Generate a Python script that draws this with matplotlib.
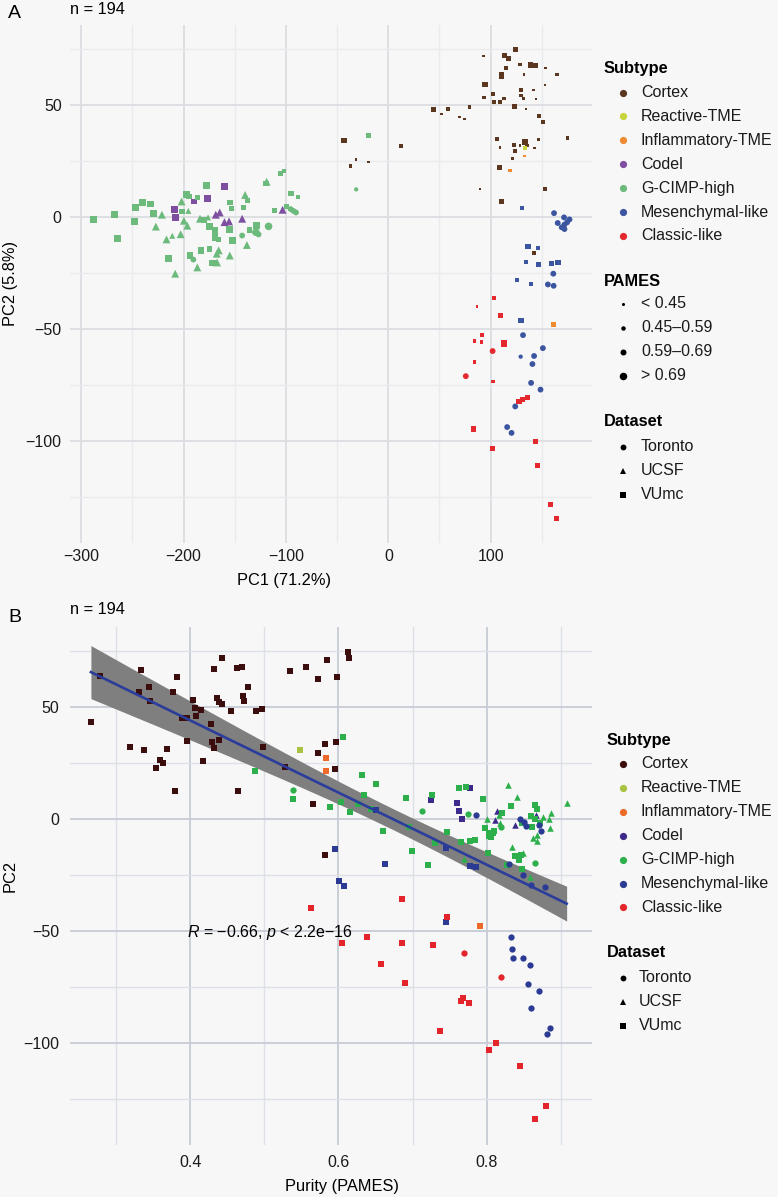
import numpy as np
import matplotlib
matplotlib.use("Agg")
import matplotlib.pyplot as plt
from matplotlib.lines import Line2D

plt.rcParams['font.family'] = ['Liberation Sans', 'DejaVu Sans']
plt.rcParams['mathtext.fontset'] = 'custom'
plt.rcParams['mathtext.it'] = 'Liberation Sans:italic'
plt.rcParams['mathtext.rm'] = 'Liberation Sans'

# legend / category info
subtypes = ["Cortex", "Reactive-TME", "Inflammatory-TME", "Codel",
            "G-CIMP-high", "Mesenchymal-like", "Classic-like"]
colors_a = ["#5a371e", "#c8d43b", "#ee8a30", "#7e4fa0", "#6dbb7c", "#3b55a0", "#e3282e"]
colors_b = ["#3b0d0d", "#a9c23f", "#ee6a2a", "#3d2a8a", "#2db04b", "#2b3a92", "#e3242b"]
pames_labels = ["< 0.45", "0.45\u20130.59", "0.59\u20130.69", "> 0.69"]
dataset_labels = ["Toronto", "UCSF", "VUmc"]
dataset_codes = ["T", "U", "V"]

# ---- panel A: (PC1, PC2, PAMES class 1-4, dataset) ----
a_cortex = [
    (93.1, 71.6, 1, "V"), (113.5, 71.9, 3, "V"), (117.8, 70.7, 3, "V"), (124.4, 74.5, 3, "V"),
    (115.1, 66.3, 2, "V"), (128.6, 67.9, 2, "V"), (139.2, 67.7, 3, "V"), (143.4, 67.3, 3, "V"),
    (153.6, 66.4, 1, "V"), (164.8, 63.4, 2, "V"), (132.6, 63.3, 1, "V"), (110.2, 63.6, 3, "V"),
    (110.2, 62.4, 3, "V"), (94.4, 59.0, 3, "V"), (153.0, 58.7, 1, "V"), (129.7, 56.5, 2, "V"),
    (141.8, 56.5, 1, "V"), (102.3, 54.7, 2, "V"), (93.8, 53.2, 2, "V"), (103.3, 51.0, 2, "V"),
    (109.2, 51.0, 2, "V"), (113.1, 52.7, 2, "V"), (129.7, 54.1, 2, "V"), (132.0, 52.7, 2, "V"),
    (144.4, 52.5, 1, "V"), (123.1, 49.0, 3, "V"), (134.6, 48.1, 1, "V"), (43.8, 47.9, 3, "V"),
    (58.2, 48.2, 2, "V"), (52.0, 45.8, 1, "V"), (79.3, 49.1, 2, "V"), (69.4, 44.5, 1, "V"),
    (74.3, 43.5, 1, "V"), (147.4, 45.0, 2, "V"), (151.3, 42.3, 2, "V"), (12.5, 31.5, 2, "V"),
    (106.3, 34.5, 2, "V"), (146.7, 34.5, 1, "V"), (175.0, 35.2, 2, "V"), (109.2, 30.8, 1, "V"),
    (122.7, 31.9, 2, "V"), (128.6, 31.8, 1, "V"), (133.5, 33.3, 3, "V"), (135.2, 31.8, 2, "V"),
    (142.8, 30.6, 1, "V"), (123.7, 29.3, 2, "V"), (121.4, 26.0, 2, "V"), (108.9, 21.9, 3, "V"),
    (89.5, 12.3, 1, "V"), (153.0, 12.3, 2, "V"), (110.5, 6.8, 3, "V"), (142.1, -16.3, 2, "V"),
    (-43.3, 34.1, 3, "V"), (-31.4, 25.4, 1, "V"), (-36.9, 22.6, 2, "V"), (-19.3, 24.4, 1, "V"),
]
a_reactive = [(133.5, 30.6, 2, "V")]
a_inflam = [(132.9, 27.1, 1, "V"), (118.8, 20.6, 2, "V"), (161.2, -48.2, 3, "V")]
a_codel = [
    (-160.1, 13.4, 4, "V"), (-176.5, 8.1, 4, "V"), (-189.9, 6.8, 3, "V"), (-209.1, 3.1, 4, "V"),
    (-207.8, -0.3, 4, "V"), (-168.6, 0.9, 4, "U"), (-164.7, 1.9, 4, "U"), (-160.1, -2.4, 4, "U"),
    (-155.6, -2.1, 4, "U"), (-142.8, -0.9, 4, "U"), (-103.3, 3.1, 4, "U"),
]
a_gcimp = [
    (-287.9, -1.2, 4, "V"), (-267.3, 0.9, 4, "V"), (-264.4, -9.8, 4, "V"), (-247.7, -2.1, 4, "V"),
    (-246.7, 4.0, 4, "V"), (-239.9, 6.3, 4, "V"), (-232.7, 5.7, 4, "V"), (-229.7, 1.3, 4, "V"),
    (-227.1, -4.4, 4, "U"), (-221.2, 0.9, 4, "U"), (-216.7, -10.1, 4, "U"), (-214.7, -18.5, 4, "V"),
    (-211.1, -8.5, 3, "U"), (-208.2, -25.4, 4, "U"), (-202.9, -7.8, 4, "U"), (-202.0, 6.8, 4, "U"),
    (-201.6, 2.4, 3, "V"), (-199.7, -1.8, 4, "U"), (-197.1, 10.0, 4, "V"), (-196.4, -4.0, 4, "U"),
    (-194.8, 9.1, 3, "V"), (-195.4, 2.6, 3, "U"), (-193.8, -17.2, 4, "V"), (-190.5, -19.1, 3, "T"),
    (-186.6, -22.6, 4, "U"), (-186.6, 8.5, 3, "V"), (-184.0, -0.9, 4, "U"), (-183.0, -15.0, 4, "V"),
    (-180.1, -1.5, 4, "V"), (-177.5, 14.1, 4, "V"), (-176.1, -0.3, 3, "U"), (-174.5, -4.3, 4, "V"),
    (-174.5, -14.4, 3, "V"), (-169.3, -6.0, 4, "V"), (-169.3, -9.1, 4, "V"), (-165.7, -10.3, 3, "V"),
    (-165.7, -15.0, 4, "U"), (-167.6, -16.5, 4, "U"), (-171.6, -20.6, 4, "V"), (-167.3, -20.4, 4, "U"),
    (-154.6, 6.2, 3, "V"), (-153.3, 3.8, 3, "V"), (-154.9, -5.6, 4, "V"), (-154.9, -17.3, 4, "U"),
    (-152.3, -10.7, 4, "V"), (-142.8, -8.4, 3, "T"), (-141.2, 4.1, 3, "V"), (-139.9, 9.7, 4, "U"),
    (-137.3, 7.4, 3, "V"), (-138.2, -12.6, 4, "U"), (-135.9, -5.9, 3, "V"), (-128.8, -3.8, 4, "V"),
    (-129.4, -6.9, 4, "T"), (-126.8, -7.9, 3, "T"), (-117.0, -4.3, 4, "T"), (-118.9, 15.6, 4, "U"),
    (-119.6, 14.7, 3, "V"), (-111.4, 2.8, 3, "V"), (-105.6, 19.4, 3, "V"), (-101.6, 20.4, 2, "V"),
    (-99.7, 4.7, 3, "V"), (-95.1, 10.3, 3, "V"), (-95.4, 3.4, 3, "T"), (-92.8, 2.6, 3, "T"),
    (-90.2, 1.9, 3, "T"), (-88.2, 8.8, 2, "V"), (-31.4, 12.2, 2, "T"), (-19.0, 36.4, 3, "V"),
]
a_mesen = [
    (130.9, 3.8, 2, "V"), (161.9, 1.6, 3, "T"), (171.7, -0.3, 3, "T"), (177.0, -1.2, 3, "T"),
    (165.5, -2.8, 3, "T"), (172.1, -3.5, 3, "T"), (169.4, -4.7, 3, "T"), (174.7, -2.5, 3, "T"),
    (172.1, -5.5, 3, "T"), (136.5, -13.2, 3, "V"), (146.4, -13.9, 2, "V"), (134.6, -20.3, 2, "V"),
    (146.7, -21.4, 3, "V"), (159.2, -21.0, 3, "V"), (165.8, -20.4, 3, "V"), (161.2, -25.4, 3, "T"),
    (125.7, -28.1, 2, "V"), (139.2, -29.9, 2, "V"), (155.9, -30.2, 3, "T"), (161.5, -30.8, 3, "T"),
    (129.7, -46.4, 3, "V"), (131.6, -52.8, 3, "T"), (151.0, -58.6, 3, "T"), (129.3, -62.4, 2, "T"),
    (142.4, -62.1, 3, "T"), (140.8, -65.7, 3, "T"), (139.5, -74.1, 3, "T"), (148.7, -77.1, 3, "T"),
    (124.0, -84.6, 3, "T"), (116.1, -93.8, 3, "T"), (120.4, -96.4, 3, "T"),
]
a_classic = [
    (103.0, -36.1, 2, "V"), (86.8, -39.9, 1, "V"), (109.5, -44.1, 3, "V"), (91.8, -52.7, 2, "V"),
    (84.2, -55.5, 2, "V"), (91.1, -55.9, 2, "V"), (113.1, -56.6, 4, "V"), (101.9, -59.9, 3, "T"),
    (84.2, -64.8, 2, "V"), (75.7, -71.1, 3, "T"), (102.6, -73.5, 2, "V"), (127.6, -82.4, 3, "V"),
    (130.9, -81.6, 3, "V"), (135.8, -80.6, 3, "V"), (83.2, -94.7, 3, "V"), (143.8, -100.1, 3, "V"),
    (101.7, -103.4, 3, "V"), (145.8, -110.8, 3, "V"), (158.2, -128.5, 3, "V"), (164.2, -134.4, 3, "V"),
]

# ---- panel B: (purity, PC2, dataset) ----
b_cortex = [
    (0.2662, 43.2, "V"), (0.2784, 63.5, "V"), (0.3342, 66.3, "V"), (0.3306, 56.4, "V"),
    (0.3450, 58.8, "V"), (0.3459, 52.7, "V"), (0.3189, 32.1, "V"), (0.3378, 30.7, "V"),
    (0.3595, 26.0, "V"), (0.3631, 24.8, "V"), (0.3545, 22.4, "V"), (0.3685, 30.9, "V"),
    (0.3797, 12.5, "V"), (0.3775, 56.4, "V"), (0.3829, 63.4, "V"), (0.3887, 44.7, "V"),
    (0.3964, 44.8, "V"), (0.3959, 34.6, "V"), (0.4036, 53.1, "V"), (0.4068, 49.4, "V"),
    (0.4077, 45.6, "V"), (0.4153, 48.4, "V"), (0.4171, 25.7, "V"), (0.4288, 42.1, "V"),
    (0.4297, 34.4, "V"), (0.4324, 31.6, "V"), (0.4383, 35.3, "V"), (0.4324, 66.8, "V"),
    (0.4428, 71.5, "V"), (0.4356, 54.0, "V"), (0.4392, 52.1, "V"), (0.4428, 51.3, "V"),
    (0.4545, 48.1, "V"), (0.4631, 67.4, "V"), (0.4698, 67.8, "V"), (0.4716, 54.9, "V"),
    (0.4730, 52.7, "V"), (0.4779, 58.9, "V"), (0.4887, 47.9, "V"), (0.4968, 48.8, "V"),
    (0.4644, 12.3, "V"), (0.4977, 31.8, "V"), (0.5279, 23.2, "V"), (0.5351, 66.0, "V"),
    (0.5563, 67.5, "V"), (0.5730, 62.3, "V"), (0.5662, 6.7, "V"), (0.5721, 29.4, "V"),
    (0.5824, 33.2, "V"), (0.5824, -16.3, "V"), (0.5847, 70.9, "V"), (0.5982, 63.4, "V"),
    (0.6135, 74.5, "V"), (0.6144, 71.8, "V"), (0.5968, 34.1, "V"), (0.5955, 22.0, "V"),
]
b_reactive = [(0.5482, 30.7, "V")]
b_inflam = [(0.5829, 27.2, "V"), (0.5838, 21.1, "V"), (0.7908, -47.9, "V")]
b_codel = [
    (0.7251, 8.5, "V"), (0.7593, 7.0, "V"), (0.7629, 3.3, "V"), (0.7665, -0.3, "V"),
    (0.7773, 13.7, "V"), (0.8138, 3.4, "U"), (0.8115, -0.7, "U"), (0.8385, -2.8, "U"),
    (0.8664, 1.5, "U"),
]
b_gcimp = [
    (0.4878, 21.1, "V"), (0.5383, 12.6, "T"), (0.5392, 8.9, "V"), (0.5883, 5.2, "V"),
    (0.6068, 36.4, "V"), (0.6032, 7.6, "V"), (0.6158, 3.0, "V"), (0.6320, 19.6, "V"),
    (0.6347, 10.7, "V"), (0.6270, 6.4, "V"), (0.6437, 4.2, "V"), (0.6504, 15.7, "V"),
    (0.6608, -5.6, "V"), (0.6914, 9.3, "V"), (0.6954, -3.6, "V"), (0.6986, -14.5, "V"),
    (0.7125, 3.3, "T"), (0.7211, -20.5, "V"), (0.7265, 10.4, "V"), (0.7305, -10.7, "V"),
    (0.7463, -5.8, "V"), (0.7620, 13.8, "V"), (0.7715, 14.2, "V"), (0.7647, -10.2, "V"),
    (0.7746, 1.9, "T"), (0.7778, -9.9, "V"), (0.7845, -9.3, "V"), (0.7692, -17.8, "U"),
    (0.7953, 8.6, "V"), (0.7976, -4.3, "V"), (0.8003, 0.0, "U"), (0.8016, -15.1, "V"),
    (0.8025, -6.2, "V"), (0.8061, -8.0, "V"), (0.8034, -7.9, "V"), (0.8084, -6.5, "V"),
    (0.8093, -5.5, "V"), (0.8160, 1.6, "U"), (0.8192, -3.7, "T"), (0.8205, 2.4, "V"),
    (0.8183, -1.8, "U"), (0.8282, 15.0, "U"), (0.8331, 5.6, "V"), (0.8340, -12.5, "U"),
    (0.8412, 9.8, "U"), (0.8376, -16.6, "V"), (0.8430, -18.5, "V"), (0.8484, -15.1, "U"),
    (0.8457, -16.0, "V"), (0.8475, -22.6, "V"), (0.8277, -20.5, "V"), (0.8480, -1.8, "V"),
    (0.8583, -26.0, "U"), (0.8592, 1.2, "V"), (0.8610, -3.6, "V"), (0.8624, -8.5, "U"),
    (0.8646, 6.2, "V"), (0.8646, -19.6, "T"), (0.8655, -0.3, "V"), (0.8678, 4.2, "V"),
    (0.8682, -9.9, "U"), (0.8682, -7.4, "U"), (0.8758, 0.9, "U"), (0.8835, 0.1, "U"),
    (0.8848, -4.0, "U"), (0.8866, 2.7, "U"), (0.9078, 7.1, "U"), (0.8714, -1.8, "V"),
]
b_mesen = [
    (0.5950, -13.5, "V"), (0.6009, -27.9, "V"), (0.6081, -29.8, "V"), (0.6509, 3.7, "V"),
    (0.6630, -20.2, "V"), (0.7445, -13.1, "V"), (0.7449, -46.0, "V"), (0.7773, -21.1, "V"),
    (0.7854, -21.5, "V"), (0.8304, -20.0, "T"), (0.8493, -25.1, "T"), (0.8592, -29.7, "T"),
    (0.8786, -30.4, "T"), (0.8327, -52.7, "T"), (0.8336, -58.2, "T"), (0.8349, -62.0, "T"),
    (0.8493, -62.0, "T"), (0.8579, -65.3, "T"), (0.8561, -73.5, "T"), (0.8705, -76.7, "T"),
    (0.8592, -84.3, "T"), (0.8858, -93.5, "T"), (0.8813, -96.0, "T"), (0.8444, 0.0, "T"),
    (0.8498, -1.5, "T"), (0.8534, -3.3, "T"), (0.8700, -2.8, "T"), (0.8732, -5.3, "T"),
    (0.7859, 1.8, "T"),
]
b_classic = [
    (0.5635, -39.6, "V"), (0.6054, -55.5, "V"), (0.6392, -52.7, "V"), (0.6855, -35.9, "V"),
    (0.6855, -55.5, "V"), (0.6576, -64.7, "V"), (0.6900, -73.2, "V"), (0.7274, -56.4, "V"),
    (0.7463, -43.8, "V"), (0.7688, -59.7, "T"), (0.8196, -70.6, "T"), (0.7652, -81.5, "V"),
    (0.7679, -80.1, "V"), (0.7760, -82.2, "V"), (0.7364, -94.5, "V"), (0.8034, -103.0, "V"),
    (0.8129, -100.0, "V"), (0.8444, -110.4, "V"), (0.8804, -128.1, "V"), (0.8646, -133.9, "V"),
]

r_text = "$R$ = \u22120.66, $p$ < 2.2e\u221216"

groups_a = [a_cortex, a_reactive, a_inflam, a_codel, a_gcimp, a_mesen, a_classic]
groups_b = [b_cortex, b_reactive, b_inflam, b_codel, b_gcimp, b_mesen, b_classic]

W, H = 778, 1197
fig = plt.figure(figsize=(W / 100, H / 100), dpi=100, facecolor="#f7f7f7")


def fx(px):
    return px / W


def fy(py):
    return 1 - py / H


markers = {"T": "o", "U": "^", "V": "s"}
shape_scale = {"T": 1.25, "U": 1.35, "V": 1.0}
pames_px = [2.6, 3.8, 5.2, 6.8]


def style_axes(ax, major, minor):
    ax.set_facecolor("#f7f7f7")
    for s in ax.spines.values():
        s.set_visible(False)
    ax.tick_params(length=0, labelsize=11.5, labelcolor="#1a1a1a")
    ax.grid(True, which="major", color=major, lw=1.3, zorder=0)
    ax.grid(True, which="minor", color=minor, lw=1.0, zorder=0)
    ax.tick_params(which="minor", length=0)
    ax.set_axisbelow(True)


# ---------------- panel A ----------------
axA = fig.add_axes([fx(70), fy(543), fx(592) - fx(70), (543 - 25) / H])
style_axes(axA, "#dcdde1", "#eaebee")
for pts, col in zip(groups_a, colors_a):
    for code in dataset_codes:
        sel = [p for p in pts if p[3] == code]
        if not sel:
            continue
        x = [p[0] for p in sel]
        y = [p[1] for p in sel]
        s = [(pames_px[p[2] - 1] * 0.72) ** 2 * shape_scale[code] for p in sel]
        axA.scatter(x, y, s=s, marker=markers[code], color=col, lw=0, zorder=3)
axA.set_xlim(-311, 199)
axA.set_ylim(-145.5, 85.5)
axA.set_xticks([-300, -200, -100, 0, 100])
axA.set_xticks([-250, -150, -50, 50, 150], minor=True)
axA.set_yticks([-100, -50, 0, 50])
axA.set_yticks([-125, -75, -25, 25, 75], minor=True)
axA.tick_params(axis="x", pad=4)
axA.tick_params(axis="y", pad=6)
axA.set_xlabel("PC1 (71.2%)", fontsize=11.8)
axA.xaxis.set_label_coords(0.41, -0.058)
axA.set_ylabel("PC2 (5.8%)", fontsize=11.8)
axA.yaxis.set_label_coords(-0.1, 0.5)

fig.text(fx(8), fy(14), "A", fontsize=14, va="center", ha="left")
fig.text(fx(70), fy(9), "n = 194", fontsize=11.8, va="center", ha="left")

# ---------------- panel B ----------------
axB = fig.add_axes([fx(70), fy(1145), fx(592) - fx(70), (1145 - 627) / H])
style_axes(axB, "#c7cbd4", "#dde0e6")

bx = np.array([p[0] for g in groups_b for p in g])
by = np.array([p[1] for g in groups_b for p in g])
slope, icpt = np.polyfit(bx, by, 1)
xs = np.linspace(bx.min(), bx.max(), 100)
n = len(bx)
resid = by - (slope * bx + icpt)
s_err = np.sqrt(np.sum(resid ** 2) / (n - 2))
se = s_err * np.sqrt(1 / n + (xs - bx.mean()) ** 2 / np.sum((bx - bx.mean()) ** 2))
fit = slope * xs + icpt
axB.fill_between(xs, fit - 1.97 * se, fit + 1.97 * se, color="#7f7f7f", lw=0, zorder=2)

for pts, col in zip(groups_b, colors_b):
    for code in dataset_codes:
        sel = [p for p in pts if p[2] == code]
        if not sel:
            continue
        x = [p[0] for p in sel]
        y = [p[1] for p in sel]
        axB.scatter(x, y, s=(5.6 * 0.72) ** 2 * shape_scale[code], marker=markers[code],
                    color=col, lw=0, zorder=3)
axB.plot(xs, fit, color="#2b3d9b", lw=1.9, zorder=4)

axB.set_xlim(0.238, 0.942)
axB.set_ylim(-145.5, 85.5)
axB.set_xticks([0.4, 0.6, 0.8])
axB.set_xticks([0.3, 0.5, 0.7, 0.9], minor=True)
axB.set_xticklabels(["0.4", "0.6", "0.8"])
axB.set_yticks([-100, -50, 0, 50])
axB.set_yticks([-125, -75, -25, 25, 75], minor=True)
axB.tick_params(axis="x", pad=7)
axB.tick_params(axis="y", pad=8)
axB.set_xlabel("Purity (PAMES)", fontsize=11.8)
axB.xaxis.set_label_coords(0.52, -0.066)
axB.set_ylabel("PC2", fontsize=11.8)
axB.yaxis.set_label_coords(-0.1, 0.52)
axB.text(0.3964, -50.8, r_text, fontsize=11.5, va="center", ha="left", zorder=5)

fig.text(fx(8), fy(617), "B", fontsize=14, va="center", ha="left")
fig.text(fx(70), fy(609), "n = 194", fontsize=11.8, va="center", ha="left")


# ---------------- legends ----------------
def legend_block(title, x_title, y_title, rows, y0, x_mk=622.7, x_txt=641, step=23.9):
    fig.text(fx(x_title), fy(y_title), title, weight="bold", fontsize=11.8, va="center", ha="left")
    for i, (label, mk, ms, col) in enumerate(rows):
        y = fy(y0 + i * step)
        fig.add_artist(Line2D([fx(x_mk)], [y], marker=mk, ms=ms, color=col, ls="none",
                              mew=0, transform=fig.transFigure))
        fig.text(fx(x_txt), y, label, fontsize=11.5, va="center", ha="left", color="#1a1a1a")


legend_block("Subtype", 604, 68, [(s, "o", 5.2, c) for s, c in zip(subtypes, colors_a)], 92.5)
legend_block("PAMES", 604, 281, [(l, "o", m, "black") for l, m in zip(pames_labels, [2.2, 3.2, 4.3, 5.4])], 304)
legend_block("Dataset", 604, 421.7, [(l, markers[c], {"T": 4.2, "U": 4.8, "V": 3.8}[c], "black")
                                     for l, c in zip(dataset_labels, dataset_codes)], 446.7)

legend_block("Subtype", 607, 740, [(s, "o", 5.2, c) for s, c in zip(subtypes, colors_b)], 764)
legend_block("Dataset", 607, 952.7, [(l, markers[c], {"T": 4.2, "U": 4.8, "V": 3.8}[c], "black")
                                     for l, c in zip(dataset_labels, dataset_codes)], 978, x_txt=639)

fig.savefig("out.png", dpi=100, facecolor=fig.get_facecolor())
